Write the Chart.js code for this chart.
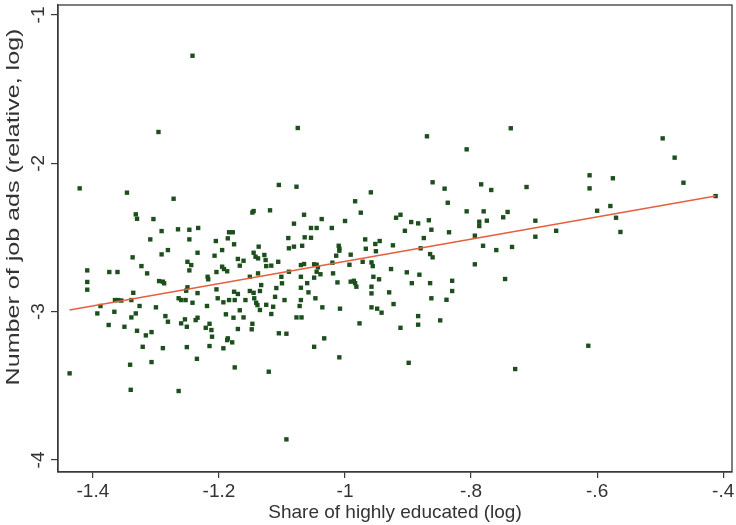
<!DOCTYPE html>
<html>
<head>
<meta charset="utf-8">
<script src="https://cdn.jsdelivr.net/npm/chart.js@4.4.1/dist/chart.umd.min.js"></script>
<style>
  html, body { margin: 0; padding: 0; background: #ffffff; }
  #wrap { width: 736px; height: 525px; }
</style>
</head>
<body>
<div id="wrap"><canvas id="c" width="736" height="525"></canvas></div>
<script>
// ---- Data ----
const xValues = [
-1.242,-1.296,-1.421,-1.346,-1.272,-1.105,-1.332,-1.330,-1.304,-1.145,
-1.147,-1.119,-1.291,-1.265,-1.247,-1.233,-1.184,-1.178,-1.309,-1.247,
-1.205,-1.186,-1.176,-1.137,-1.291,-1.281,-1.234,-1.195,-1.207,-1.145,
-1.142,-1.138,-1.128,-1.126,-1.106,-1.337,-1.323,-1.314,-1.250,-1.244,
-1.247,-1.170,-1.161,-1.167,-1.125,-1.117,-1.409,-1.374,-1.361,-1.409,
-1.409,-1.204,-1.195,-1.192,-1.187,-1.138,-1.151,-1.218,-1.217,-1.295,
-1.289,-1.287,-1.250,-1.252,-1.234,-1.204,-1.133,-1.109,-1.101,-1.336,
-1.365,-1.360,-1.355,-1.339,-1.388,-1.176,-1.170,-1.151,-1.145,-1.135,
-1.111,-1.202,-1.193,-1.184,-1.175,-1.158,-1.144,-1.141,-1.139,-1.264,
-1.260,-1.253,-1.242,-1.219,-1.326,-1.300,-1.135,-1.125,-1.114,-1.393,
-1.366,-1.332,-1.339,-1.375,-1.350,-1.330,-1.316,-1.307,-1.285,-1.281,
-1.260,-1.254,-1.251,-1.237,-1.234,-1.221,-1.215,-1.212,-1.211,-1.189,
-1.177,-1.167,-1.161,-1.170,-1.147,-1.148,-1.117,-1.105,-1.321,-1.289,
-1.251,-1.215,-1.193,-1.187,-1.186,-1.179,-1.235,-1.307,-1.341,-1.437,
-1.175,-1.121,-1.340,-1.264,-1.075,-0.870,-0.807,-1.077,-0.861,-0.842,
-0.784,-0.768,-0.959,-0.984,-0.837,-0.975,-1.065,-1.037,-1.081,-1.054,
-1.045,-1.021,-1.000,-0.919,-0.912,-0.895,-0.884,-0.867,-0.863,-0.905,
-0.835,-0.807,-0.780,-0.787,-0.787,-0.775,-0.749,-1.090,-1.064,-1.054,
-0.968,-0.945,-0.952,-0.875,-0.794,-1.089,-1.081,-1.068,-1.010,-1.009,
-1.009,-0.967,-0.951,-0.924,-0.880,-0.781,-0.760,-1.014,-0.991,-0.865,
-0.861,-1.070,-1.065,-1.049,-1.045,-1.043,-1.020,-0.993,-0.972,-0.958,
-0.956,-0.794,-1.089,-1.070,-1.049,-1.039,-1.045,-1.019,-1.060,-1.070,
-1.012,-0.991,-0.986,-0.984,-0.982,-0.955,-0.946,-0.927,-0.902,-0.882,
-0.894,-0.865,-0.830,-0.746,-1.096,-1.058,-1.047,-1.070,-1.072,-1.036,
-1.008,-0.958,-0.958,-0.930,-0.923,-0.958,-0.949,-0.942,-0.863,-0.839,
-0.830,-1.077,-1.069,-0.977,-0.912,-0.884,-0.884,-0.849,-1.093,-1.033,
-1.049,-1.009,-0.899,-1.093,-0.737,-0.496,-0.477,-0.463,-0.712,-0.612,
-0.612,-0.575,-0.742,-0.600,-0.579,-0.698,-0.570,-0.665,-0.563,-0.412,
-0.698,-0.735,-0.614,-0.730,-1.100
];
const yValues = [
-1.275,-1.789,-2.169,-2.198,-2.239,-2.146,-2.344,-2.374,-2.376,-2.322,
-2.332,-2.317,-2.457,-2.445,-2.448,-2.436,-2.465,-2.465,-2.513,-2.513,
-2.524,-2.506,-2.546,-2.562,-2.614,-2.585,-2.603,-2.585,-2.623,-2.603,
-2.630,-2.641,-2.618,-2.652,-2.664,-2.634,-2.693,-2.742,-2.664,-2.686,
-2.722,-2.645,-2.657,-2.690,-2.693,-2.690,-2.722,-2.733,-2.733,-2.800,
-2.852,-2.733,-2.697,-2.713,-2.728,-2.742,-2.765,-2.765,-2.782,-2.794,
-2.798,-2.809,-2.836,-2.859,-2.875,-2.850,-2.821,-2.841,-2.765,-2.873,
-2.922,-2.922,-2.925,-2.922,-2.962,-2.866,-2.881,-2.861,-2.873,-2.861,
-2.900,-2.910,-2.937,-2.922,-2.922,-2.922,-2.910,-2.940,-2.956,-2.910,
-2.922,-2.922,-2.940,-2.962,-2.962,-2.971,-2.989,-2.954,-2.967,-3.012,
-3.001,-3.012,-3.039,-3.090,-3.102,-3.129,-3.160,-3.138,-3.030,-3.068,
-3.079,-3.052,-3.102,-3.057,-3.041,-3.109,-3.082,-3.124,-3.169,-3.018,
-3.041,-2.991,-3.039,-3.117,-3.082,-3.119,-3.016,-3.146,-3.237,-3.246,
-3.239,-3.232,-3.247,-3.192,-3.180,-3.207,-3.318,-3.340,-3.358,-3.416,
-3.376,-3.405,-3.527,-3.535,-1.762,-1.818,-1.906,-2.158,-2.128,-2.171,
-2.142,-2.180,-2.196,-2.256,-2.266,-2.333,-2.347,-2.376,-2.407,-2.436,
-2.436,-2.436,-2.389,-2.367,-2.347,-2.396,-2.405,-2.384,-2.448,-2.455,
-2.465,-2.324,-2.324,-2.394,-2.423,-2.387,-2.364,-2.504,-2.499,-2.502,
-2.513,-2.524,-2.544,-2.504,-2.488,-2.573,-2.562,-2.556,-2.556,-2.573,
-2.589,-2.576,-2.593,-2.553,-2.573,-2.556,-2.585,-2.623,-2.616,-2.612,
-2.634,-2.686,-2.679,-2.681,-2.684,-2.701,-2.670,-2.684,-2.664,-2.668,
-2.693,-2.681,-2.731,-2.765,-2.771,-2.748,-2.731,-2.742,-2.808,-2.839,
-2.803,-2.798,-2.792,-2.808,-2.832,-2.765,-2.782,-2.713,-2.735,-2.751,
-2.808,-2.808,-2.792,-2.780,-2.922,-2.870,-2.910,-2.922,-2.962,-2.971,
-2.980,-2.832,-2.877,-2.870,-2.949,-2.971,-2.980,-3.007,-2.910,-2.920,
-2.861,-3.039,-3.039,-3.079,-3.109,-3.030,-3.088,-3.059,-3.149,-3.180,
-3.237,-3.308,-3.345,-3.861,-1.764,-1.832,-1.962,-2.131,-2.160,-2.081,
-2.169,-2.101,-2.328,-2.320,-2.288,-2.387,-2.367,-2.455,-2.463,-2.221,
-2.495,-2.564,-3.230,-3.387,-2.809
];
// fitted line end points
const fitX = [-1.437, -0.412];
const fitY = [-2.989, -2.221];
// tick values and labels
const xTickValues = [-1.4, -1.2, -1, -0.8, -0.6, -0.4];
const xTickLabels = ['-1.4', '-1.2', '-1', '-.8', '-.6', '-.4'];
const yTickValues = [-1, -2, -3, -4];
const yTickLabels = ['-1', '-2', '-3', '-4'];
const xTitle = 'Share of highly educated (log)';
const yTitle = 'Number of job ads (relative, log)';

// ---- Build datasets ----
const scatterPoints = xValues.map((x, i) => ({ x: x, y: yValues[i] }));
const linePoints = fitX.map((x, i) => ({ x: x, y: fitY[i] }));

const FONT = '19px "Liberation Sans", Arial, sans-serif';
const TEXT = '#333333';
const AXIS = '#3a3a3a';

const framePlugin = {
  id: 'frameAndLabels',
  afterDraw(chart) {
    const ctx = chart.ctx;
    const a = chart.chartArea;
    const xs = chart.scales.x, ys = chart.scales.y;
    ctx.save();
    // frame
    ctx.strokeStyle = AXIS;
    ctx.lineWidth = 1.3;
    ctx.strokeRect(a.left, a.top, a.right - a.left, a.bottom - a.top);
    // tick labels
    ctx.fillStyle = TEXT;
    ctx.font = FONT;
    ctx.textAlign = 'center';
    ctx.textBaseline = 'middle';
    xTickValues.forEach((v, i) => {
      ctx.fillText(xTickLabels[i], xs.getPixelForValue(v), a.bottom + 20);
    });
    yTickValues.forEach((v, i) => {
      ctx.save();
      ctx.translate(a.left - 19, ys.getPixelForValue(v));
      ctx.rotate(-Math.PI / 2);
      ctx.fillText(yTickLabels[i], 0, 0);
      ctx.restore();
    });
    // axis titles
    ctx.fillText(xTitle, (a.left + a.right) / 2, a.bottom + 41);
    ctx.save();
    ctx.translate(14, 207);
    ctx.rotate(-Math.PI / 2);
    ctx.scale(1.32, 1);
    ctx.fillText(yTitle, 0, 0);
    ctx.restore();
    ctx.restore();
  }
};

new Chart(document.getElementById('c'), {
  type: 'scatter',
  data: {
    datasets: [
      {
        type: 'line',
        label: 'Fitted values',
        data: linePoints,
        borderColor: '#e4603e',
        borderWidth: 1.6,
        pointRadius: 0,
        fill: false,
        tension: 0
      },
      {
        type: 'scatter',
        label: 'Observations',
        data: scatterPoints,
        pointStyle: 'rect',
        pointRadius: 3.1,
        pointBorderWidth: 0,
        backgroundColor: '#1d4f1d',
        borderColor: '#1d4f1d'
      }
    ]
  },
  options: {
    responsive: false,
    animation: false,
    devicePixelRatio: 1,
    layout: { padding: { top: 5, right: 2, left: 0, bottom: 0 } },
    plugins: {
      legend: { display: false },
      tooltip: { enabled: false }
    },
    scales: {
      x: {
        type: 'linear',
        min: -1.4554,
        max: -0.386,
        afterBuildTicks(scale) { scale.ticks = xTickValues.map(v => ({ value: v })); },
        afterFit(scale) { scale.height = 53; },
        ticks: { display: false },
        grid: { display: true, drawOnChartArea: false, drawTicks: true, tickLength: 6, color: AXIS, lineWidth: 1.2 },
        border: { display: true, color: AXIS, width: 1.3 }
      },
      y: {
        type: 'linear',
        min: -4.081,
        max: -0.933,
        afterBuildTicks(scale) { scale.ticks = yTickValues.map(v => ({ value: v })); },
        afterFit(scale) { scale.width = 58; },
        ticks: { display: false },
        grid: { display: true, drawOnChartArea: false, drawTicks: true, tickLength: 7, color: AXIS, lineWidth: 1.2 },
        border: { display: true, color: AXIS, width: 1.3 }
      }
    }
  },
  plugins: [framePlugin]
});
</script>
</body>
</html>
